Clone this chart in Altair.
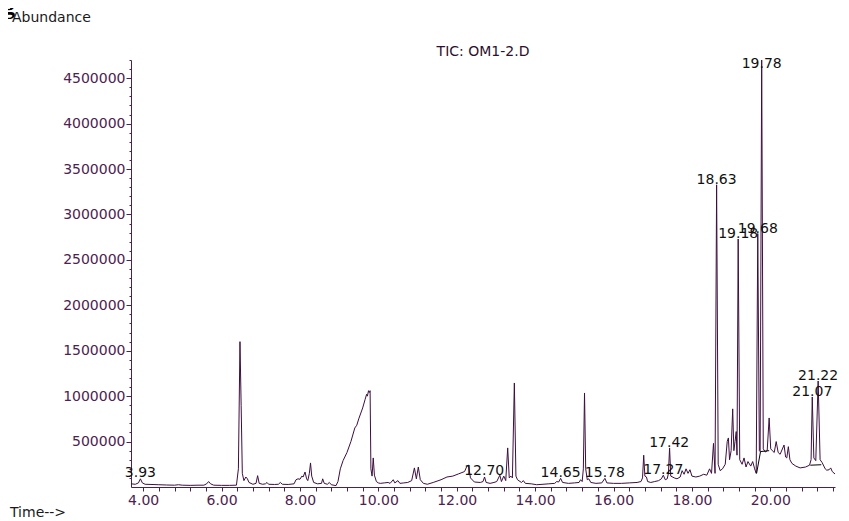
import altair as alt
import pandas as pd

# ---- chromatogram trace (retention time in min, abundance in thousands) ----
times = [3.69, 3.80, 3.88, 3.93, 3.98, 4.05, 4.20, 4.40, 4.60, 4.80, 4.90, 5.00, 5.20, 5.40,
         5.55, 5.62, 5.67, 5.72, 5.80, 6.00, 6.20, 6.38, 6.43, 6.47, 6.50, 6.53, 6.57, 6.62,
         6.66, 6.70, 6.80, 6.88, 6.92, 6.96, 7.05, 7.12, 7.16, 7.20, 7.35, 7.45, 7.50, 7.55,
         7.70, 7.85, 7.90, 7.95, 8.00, 8.05, 8.08, 8.13, 8.17, 8.20, 8.24, 8.27, 8.30, 8.35,
         8.45, 8.55, 8.58, 8.62, 8.70, 8.75, 8.80, 8.92, 8.97, 9.03, 9.10, 9.20, 9.30, 9.40,
         9.45, 9.50, 9.60, 9.66, 9.70, 9.72, 9.75, 9.77, 9.79, 9.81, 9.84, 9.87, 9.90, 9.95,
         10.00, 10.05, 10.15, 10.25, 10.30, 10.38, 10.42, 10.50, 10.55, 10.65, 10.75, 10.85,
         10.92, 10.97, 11.02, 11.07, 11.15, 11.25, 11.40, 11.60, 11.75, 11.90, 12.05, 12.20,
         12.26, 12.30, 12.35, 12.45, 12.60, 12.67, 12.71, 12.75, 12.85, 12.95, 13.02, 13.10,
         13.14, 13.20, 13.25, 13.30, 13.34, 13.38, 13.42, 13.47, 13.51, 13.55, 13.65, 13.70,
         13.75, 13.90, 14.04, 14.20, 14.35, 14.50, 14.55, 14.60, 14.65, 14.70, 14.85, 15.00,
         15.12, 15.16, 15.20, 15.23, 15.26, 15.29, 15.33, 15.37, 15.42, 15.55, 15.70, 15.78,
         15.83, 16.00, 16.20, 16.40, 16.60, 16.70, 16.74, 16.77, 16.80, 16.84, 16.87, 16.95,
         17.05, 17.15, 17.22, 17.27, 17.32, 17.37, 17.40, 17.43, 17.46, 17.55, 17.62, 17.70,
         17.75, 17.80, 17.85, 17.90, 17.95, 18.00, 18.10, 18.20, 18.30, 18.38, 18.45, 18.50,
         18.55, 18.59, 18.63, 18.67, 18.72, 18.78, 18.85, 18.90, 18.93, 18.96, 19.00, 19.04,
         19.07, 19.10, 19.13, 19.15, 19.18, 19.22, 19.28, 19.33, 19.38, 19.43, 19.50, 19.55,
         19.60, 19.64, 19.68, 19.72, 19.74, 19.78, 19.82, 19.87, 19.92, 19.97, 20.01, 20.05,
         20.10, 20.15, 20.20, 20.25, 20.35, 20.39, 20.42, 20.46, 20.50, 20.55, 20.65, 20.76,
         20.90, 21.00, 21.04, 21.07, 21.11, 21.16, 21.22, 21.27, 21.32, 21.40, 21.44, 21.50,
         21.54, 21.58, 21.65]
abundance_k = [35, 30, 45, 90, 45, 30, 28, 25, 22, 20, 25, 20, 18, 20,
               20, 35, 60, 35, 20, 18, 18, 20, 200, 1600, 900, 150, 70, 110,
               90, 50, 30, 40, 125, 40, 30, 35, 50, 30, 28, 30, 50, 30,
               28, 35, 80, 90, 85, 120, 110, 165, 90, 70, 150, 265, 120, 50,
               35, 40, 90, 40, 30, 50, 25, 15, 60, 200, 290, 380, 500, 650,
               680, 750, 870, 960, 1020, 1000, 1060, 1040, 1060, 200, 120, 320, 130, 60,
               45, 40, 45, 50, 40, 80, 45, 70, 40, 45, 50, 70,
               210, 90, 220, 80, 40, 30, 50, 80, 110, 120, 145, 170,
               230, 240, 100, 55, 50, 60, 110, 50, 40, 50, 60, 130,
               60, 120, 70, 430, 100, 120, 100, 1145, 120, 80, 50, 70,
               40, 35, 25, 30, 35, 40, 60, 55, 95, 50, 40, 45,
               50, 80, 60, 200, 1035, 200, 80, 90, 50, 40, 45, 95,
               45, 40, 40, 45, 50, 60, 100, 350, 120, 110, 60, 50,
               60, 70, 90, 130, 80, 90, 150, 430, 120, 100, 90, 110,
               180, 140, 200, 150, 190, 120, 110, 120, 140, 130, 200, 150,
               480, 150, 3326, 250, 180, 200, 250, 500, 540, 300, 400, 860,
               400, 500, 610, 350, 2730, 300, 250, 320, 220, 280, 230, 280,
               200, 150, 2790, 400, 390, 4700, 420, 385, 400, 760, 420, 400,
               380, 500, 380, 360, 462, 330, 320, 444, 300, 260, 230, 210,
               220, 240, 300, 991, 320, 290, 1167, 300, 270, 200, 185, 190,
               210, 170, 143]

# ---- labelled peaks ----
peak_labels = ["3.93", "12.70", "14.65", "15.78", "17.27", "17.42",
               "18.63", "19.18", "19.68", "19.78", "21.07", "21.22"]
peak_times = [3.93, 12.70, 14.65, 15.78, 17.27, 17.42,
              18.63, 19.18, 19.68, 19.78, 21.07, 21.22]
peak_abund_k = [95, 120, 95, 95, 130, 430,
                3326, 2730, 2790, 4700, 991, 1167]

# ---- integration baselines (black segments) ----
base_t1 = [19.65, 19.75, 21.02]
base_t2 = [19.75, 19.97, 21.30]
base_a1_k = [150, 390, 240]
base_a2_k = [390, 400, 245]

# ---- axis ticks ----
x_ticks = [4.0, 4.4, 4.8, 5.2, 5.6, 6.0, 6.4, 6.8, 7.2, 7.6, 8.0, 8.4, 8.8, 9.2, 9.6,
           10.0, 10.4, 10.8, 11.2, 11.6, 12.0, 12.4, 12.8, 13.2, 13.6, 14.0, 14.4, 14.8,
           15.2, 15.6, 16.0, 16.4, 16.8, 17.2, 17.6, 18.0, 18.4, 18.8, 19.2, 19.6, 20.0,
           20.4, 20.8, 21.2, 21.6]
y_ticks = [v * 100000 for v in range(1, 48)]

trace = pd.DataFrame({"t": times, "a": [v * 1000 for v in abundance_k]})
peaks = pd.DataFrame({"t": peak_times, "a": [v * 1000 for v in peak_abund_k],
                      "label": peak_labels})
bases = pd.DataFrame({"t1": base_t1, "t2": base_t2,
                      "a1": [v * 1000 for v in base_a1_k],
                      "a2": [v * 1000 for v in base_a2_k]})

W, H = 704, 427
PURPLE = "#3d0f3f"
AXIS = "#4d2150"
FONT = "DejaVu Sans"

xscale = alt.Scale(domain=[3.69, 21.65], nice=False, zero=False)
yscale = alt.Scale(domain=[0, 4700000], nice=False, zero=False)

x_axis = alt.Axis(
    title=None, values=x_ticks, grid=False, labelOverlap=False,
    labelExpr="abs(datum.value/2 - round(datum.value/2)) < 0.01 ? format(datum.value, '.2f') : ''",
    domainColor=AXIS, tickColor=AXIS, labelColor=AXIS, tickSize=4,
    labelFont=FONT, labelFontSize=14, labelPadding=2, labelFlush=False,
)
y_axis = alt.Axis(
    title=None, values=y_ticks, grid=False, labelOverlap=False,
    labelExpr="datum.value % 500000 === 0 ? format(datum.value, 'd') : ''",
    domainColor=AXIS, tickColor=AXIS, labelColor=AXIS,
    tickSize={"condition": {"test": "datum.value % 500000 === 0", "value": 5}, "value": 2},
    labelFont=FONT, labelFontSize=14, labelPadding=1, labelFlush=False,
)

line = alt.Chart(trace).mark_line(color=PURPLE, strokeWidth=1).encode(
    x=alt.X("t:Q", scale=xscale, axis=x_axis),
    y=alt.Y("a:Q", scale=yscale, axis=y_axis),
)

base_rules = alt.Chart(bases).mark_rule(color="#000000", strokeWidth=1).encode(
    x=alt.X("t1:Q", scale=xscale, axis=x_axis),
    x2="t2:Q",
    y=alt.Y("a1:Q", scale=yscale, axis=y_axis),
    y2="a2:Q",
)

labels = alt.Chart(peaks).transform_calculate(
    ly="min(datum.a, 4600000)"
).mark_text(
    align="center", baseline="alphabetic", dy=-1, font=FONT, fontSize=14, color="#111111"
).encode(
    x=alt.X("t:Q", scale=xscale, axis=x_axis),
    y=alt.Y("ly:Q", scale=yscale, axis=y_axis),
    text="label:N",
)

anno = pd.DataFrame({"txt": ["x"]})
title_txt = alt.Chart(anno).mark_text(
    text="TIC: OM1-2.D", align="center", baseline="middle", font=FONT, fontSize=14,
    color="#2d0f2f"
).encode(x=alt.value(W / 2), y=alt.value(-8))
abundance_txt = alt.Chart(anno).mark_text(
    text="Abundance", align="left", baseline="middle", font=FONT, fontSize=14, color="#1a1a1a"
).encode(x=alt.value(-119), y=alt.value(-42))
time_txt = alt.Chart(anno).mark_text(
    text="Time-->", align="left", baseline="middle", font=FONT, fontSize=14, color="#1a1a1a"
).encode(x=alt.value(-121), y=alt.value(453))
g_txt = alt.Chart(anno).mark_text(
    text="g", align="left", baseline="alphabetic", font="Liberation Serif",
    fontWeight="bold", fontSize=24, color="#000000"
).encode(x=alt.value(-128), y=alt.value(-46))

chart = alt.layer(line, base_rules, labels, title_txt, abundance_txt, time_txt, g_txt).properties(
    width=W, height=H,
    autosize=alt.AutoSizeParams(type="none"),
    padding={"left": 123, "top": 52, "right": 4, "bottom": 33},
).configure_view(stroke=None)

chart.save("out.html", embed_options={"renderer": "svg", "actions": False})
